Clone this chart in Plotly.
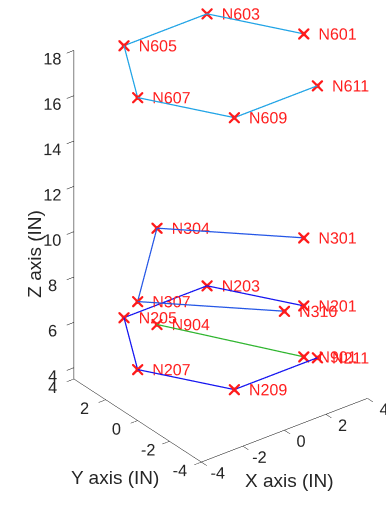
import plotly.graph_objects as go

# Node coordinates (inches)
node_names = ["N601", "N603", "N605", "N607", "N609", "N611",
              "N301", "N304", "N307", "N310",
              "N201", "N203", "N205", "N207", "N209", "N211",
              "N904", "N901"]
node_x = [4, 2, -2, -4, -2, 2,
          4, 0, -4, 0,
          4, 2, -2, -4, -2, 2,
          0, 4]
node_y = [0, 3.464, 3.464, 0, -3.464, -3.464,
          0, 4, 0, -4,
          0, 3.464, 3.464, 0, -3.464, -3.464,
          4, 0]
node_z = [17.75, 17.75, 17.75, 17.75, 17.75, 17.75,
          8.75, 8.75, 8.75, 8.75,
          5.75, 5.75, 5.75, 5.75, 5.75, 5.75,
          4.5, 3.5]

xy_ticks = [-4, -2, 0, 2, 4]
z_ticks = [4, 6, 8, 10, 12, 14, 16, 18]

# Members drawn as polylines through named nodes
members = [
    (["N601", "N603", "N605", "N607", "N609", "N611"], "#1fa3e6"),
    (["N301", "N304", "N307", "N310"], "#2456e6"),
    (["N201", "N203", "N205", "N207", "N209", "N211"], "#1414f0"),
    (["N904", "N901"], "#2fb52f"),
]

FONT = "Liberation Sans, Arial, sans-serif"
idx = {n: i for i, n in enumerate(node_names)}
fig = go.Figure()

for path, color in members:
    fig.add_trace(go.Scatter3d(
        x=[node_x[idx[n]] for n in path],
        y=[node_y[idx[n]] for n in path],
        z=[node_z[idx[n]] for n in path],
        mode="lines", line=dict(color=color, width=2.5),
        hoverinfo="skip", showlegend=False))

# Asterisk markers: a plus and a cross overlaid
for sym in ["cross", "x"]:
    fig.add_trace(go.Scatter3d(
        x=node_x, y=node_y, z=node_z, mode="markers",
        marker=dict(symbol=sym, size=2.6, color="#ff1a1a", line=dict(width=0)),
        hoverinfo="skip", showlegend=False))

fig.add_trace(go.Scatter3d(
    x=node_x, y=node_y, z=node_z, mode="text",
    text=node_names, textposition="middle right",
    textfont=dict(family=FONT, size=16, color="#ff2020"),
    hoverinfo="skip", showlegend=False))

axis_common = dict(
    showgrid=False, showbackground=False, zeroline=False,
    showline=True, linecolor="black", linewidth=1,
    ticks="outside", tickcolor="black", tickangle=0,
    showspikes=False, title=dict(text=""),
    tickfont=dict(family=FONT, size=14, color="#262626"),
)

# View: azimuth -37.5 deg, elevation 30 deg, orthographic
S = 1.494
look = (-0.527, -0.687, 0.5)
pan = (-0.122, 0.020, -0.101)
fig.update_layout(
    width=386, height=508,
    margin=dict(l=0, r=0, t=0, b=0),
    paper_bgcolor="white",
    scene=dict(
        domain=dict(x=[0, 1], y=[0, 1]),
        xaxis=dict(range=[-4, 4], tickvals=xy_ticks, ticklen=9,
                   ticktext=[str(v) for v in xy_ticks], **axis_common),
        yaxis=dict(range=[-4, 4], tickvals=xy_ticks, ticklen=9,
                   ticktext=[str(v) for v in xy_ticks], **axis_common),
        zaxis=dict(range=[3.5, 18], tickvals=z_ticks, ticklen=5,
                   ticktext=[str(v) for v in z_ticks], **axis_common),
        aspectmode="manual",
        aspectratio=dict(x=0.5517 * S, y=0.5517 * S, z=1.0 * S),
        camera=dict(
            eye=dict(x=look[0] * 2 + pan[0], y=look[1] * 2 + pan[1], z=look[2] * 2 + pan[2]),
            center=dict(x=pan[0], y=pan[1], z=pan[2]),
            up=dict(x=0, y=0, z=1),
            projection=dict(type="orthographic"),
        ),
    ),
    annotations=[
        dict(text="X axis (IN)", x=0.87, y=0.03, xref="paper", yref="paper",
             showarrow=False, font=dict(family=FONT, size=19, color="#262626")),
        dict(text="Y axis (IN)", x=0.18, y=0.035, xref="paper", yref="paper",
             showarrow=False, font=dict(family=FONT, size=19, color="#262626")),
        dict(text="Z axis (IN)", x=0.055, y=0.5, xref="paper", yref="paper", textangle=-90,
             showarrow=False, font=dict(family=FONT, size=19, color="#262626")),
    ],
)

fig.write_html("out.html")
